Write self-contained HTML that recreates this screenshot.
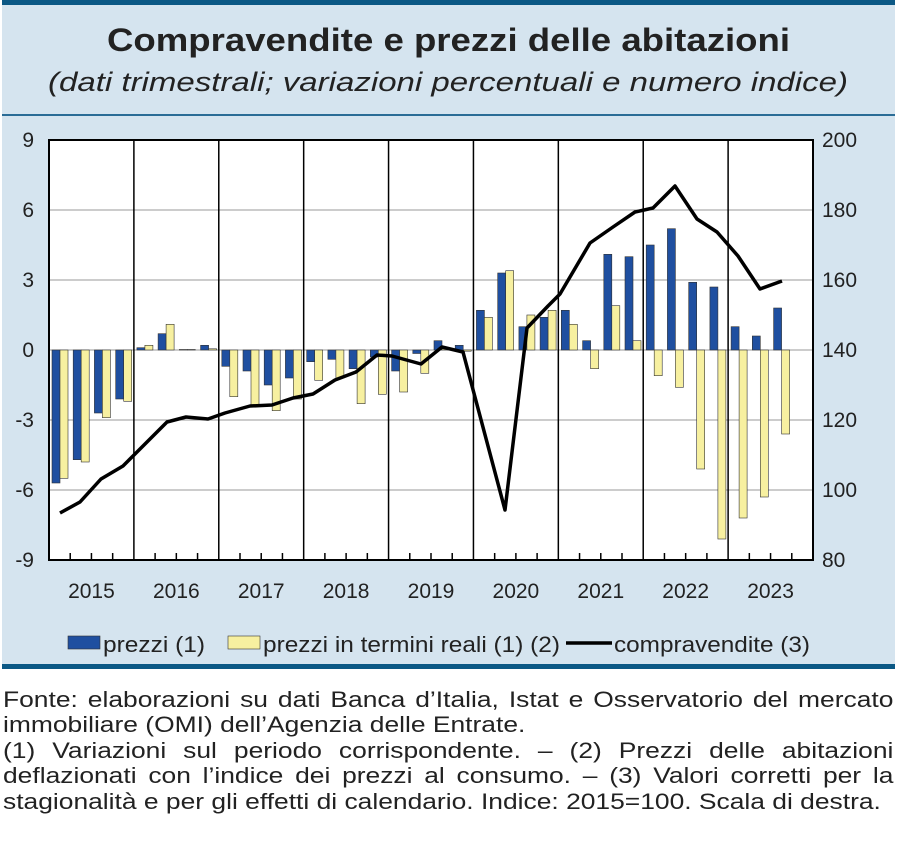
<!DOCTYPE html>
<html><head><meta charset="utf-8"><style>
body{margin:0;width:900px;height:843px;background:#fff;font-family:"Liberation Sans",sans-serif;overflow:hidden;position:relative}
.fn{position:absolute;left:3px;width:742px;font-size:22px;color:#222;white-space:nowrap;text-align:justify;text-align-last:justify;line-height:24px;transform:scaleX(1.2);transform-origin:0 0}
.l{text-align-last:left}
</style></head><body>
<svg id="s" width="900" height="843" style="position:absolute;left:0;top:0" font-family="Liberation Sans, sans-serif">
<rect x="2" y="0" width="893" height="668" fill="#d5e4ef"/>
<rect x="2" y="0" width="893" height="5" fill="#0b5885"/>
<rect x="2" y="114" width="893" height="2" fill="#2a6c96"/>
<rect x="2" y="664" width="893" height="5" fill="#0b5885"/>
<text x="107" y="51" font-size="32" font-weight="bold" fill="#222" textLength="683" lengthAdjust="spacingAndGlyphs">Compravendite e prezzi delle abitazioni</text>
<text x="48" y="91" font-size="27" font-style="italic" fill="#222" textLength="800" lengthAdjust="spacingAndGlyphs">(dati trimestrali; variazioni percentuali e numero indice)</text>
<rect x="49" y="140" width="764" height="420" fill="#fff"/>
<g id="g"></g>
</svg>
<div class="fn" style="top:688px">Fonte: elaborazioni su dati Banca d’Italia, Istat e Osservatorio del mercato</div>
<div class="fn l" style="top:713px">immobiliare (OMI) dell’Agenzia delle Entrate.</div>
<div class="fn" style="top:739px">(1) Variazioni sul periodo corrispondente. – (2) Prezzi delle abitazioni</div>
<div class="fn" style="top:764px">deflazionati con l’indice dei prezzi al consumo. – (3) Valori corretti per la</div>
<div class="fn l" style="top:790px">stagionalità e per gli effetti di calendario. Indice: 2015=100. Scala di destra.</div>
<script>
var g=document.getElementById('g'),h='';
var L=49,R=813,T=140,B=560,Z=350,k=70/3,q=(R-L)/36;
for(var v=-6;v<=6;v+=3){var y=Z-v*k;h+='<line x1="49" x2="813" y1="'+y+'" y2="'+y+'" stroke="#999" stroke-width="1"/>';}
var bl=[-5.7,-4.7,-2.7,-2.1,0.1,0.7,0.02,0.2,-0.7,-0.9,-1.5,-1.2,-0.5,-0.4,-0.8,-0.3,-0.9,-0.15,0.4,0.2,1.7,3.3,1.0,1.4,1.7,0.4,4.1,4.0,4.5,5.2,2.9,2.7,1.0,0.6,1.8];
var ye=[-5.5,-4.8,-2.9,-2.2,0.2,1.1,0.02,0.05,-2.0,-2.4,-2.6,-2.1,-1.3,-1.2,-2.3,-1.9,-1.8,-1.0,0.05,-0.05,1.4,3.4,1.5,1.7,1.1,-0.8,1.9,0.4,-1.1,-1.6,-5.1,-8.1,-7.2,-6.3,-3.6];
function bar(x,v,c){var y=Math.min(Z,Z-v*k),hh=Math.abs(v*k);h+='<rect x="'+x.toFixed(1)+'" y="'+y.toFixed(1)+'" width="8" height="'+hh.toFixed(1)+'" fill="'+c+'" stroke="#333" stroke-width="0.6"/>';}
for(var i=0;i<35;i++){var x=L+i*q;bar(x+3,bl[i],'#1f4fa0');bar(x+11,ye[i],'#f7f0a0');}
for(var y2=1;y2<9;y2++){var x=L+y2*q*4;h+='<line x1="'+x+'" x2="'+x+'" y1="140" y2="560" stroke="#000" stroke-width="1.5"/>';}
for(var i=1;i<36;i++){if(i%4){var x=L+i*q;h+='<line x1="'+x+'" x2="'+x+'" y1="553" y2="560" stroke="#000" stroke-width="1.5"/>';}}
var pts=[[60,513],[80,502],[101,479],[123,466],[145,444],[167,422],[186,417],[208,419],[225,413],[250,406],[272,405],[293,398],[313,394],[335,380],[356,372],[377,355],[392,356],[421,364],[442,347],[463,352],[505,510],[527,328],[548,306],[560,294],[590,243],[613,227],[635,212],[653,208],[675,186],[697,219],[717,232],[738,256],[760,289],[782,281]];
h+='<polyline fill="none" stroke="#000" stroke-width="3.5" stroke-linejoin="round" points="'+pts.map(function(p){return p.join(',')}).join(' ')+'"/>';
h+='<rect x="49" y="140" width="764" height="420" fill="none" stroke="#000" stroke-width="2"/>';
var yl=['9','6','3','0','-3','-6','-9'],rl=['200','180','160','140','120','100','80'];
for(var j=0;j<7;j++){var y=T+j*70+7;h+='<text x="34" y="'+y+'" text-anchor="end" font-size="21" fill="#222">'+yl[j]+'</text><text x="822" y="'+y+'" font-size="21" fill="#222">'+rl[j]+'</text>';}
for(var j=0;j<9;j++){var x=L+(j+0.5)*q*4;h+='<text x="'+x+'" y="598" text-anchor="middle" font-size="21" fill="#222">'+(2015+j)+'</text>';}
h+='<rect x="68" y="636" width="32" height="13" fill="#1f4fa0" stroke="#333" stroke-width="0.6"/><text x="103" y="652" font-size="22" fill="#222" textLength="102" lengthAdjust="spacingAndGlyphs">prezzi (1)</text>';
h+='<rect x="228" y="636" width="32" height="13" fill="#f7f0a0" stroke="#333" stroke-width="0.6"/><text x="263" y="652" font-size="22" fill="#222" textLength="297" lengthAdjust="spacingAndGlyphs">prezzi in termini reali (1) (2)</text>';
h+='<line x1="566" x2="612" y1="643" y2="643" stroke="#000" stroke-width="3.5"/><text x="614" y="652" font-size="22" fill="#222" textLength="196" lengthAdjust="spacingAndGlyphs">compravendite (3)</text>';
g.innerHTML=h;
</script>
</body></html>
